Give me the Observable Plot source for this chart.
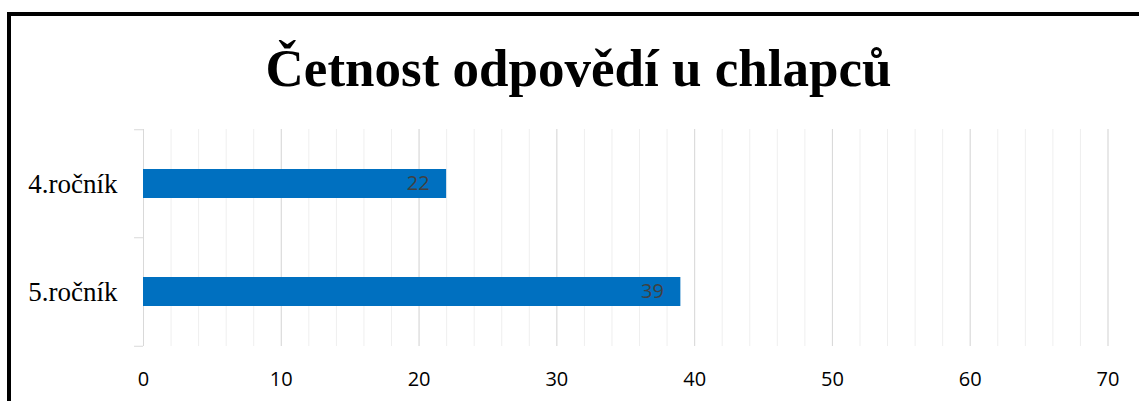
<!DOCTYPE html>
<html>
<head>
<meta charset="utf-8">
<script src="https://cdn.jsdelivr.net/npm/d3@7"></script>
<script src="https://cdn.jsdelivr.net/npm/@observablehq/plot@0.6"></script>
<style>
  html, body { margin: 0; padding: 0; background: #fff; width: 1139px; height: 401px; overflow: hidden; }
  #frame { position: absolute; left: 7px; top: 12px; width: 1200px; height: 500px;
           border-left: 4px solid #000; border-top: 4px solid #000; }
  #title { position: absolute; left: 0; top: 42px; width: 1157px; text-align: center;
           font-family: "Liberation Serif", "Times New Roman", serif; font-weight: bold;
           font-size: 53px; line-height: 53px; color: #000; white-space: nowrap; }
  #chart { position: absolute; left: 0; top: 0; }
</style>
</head>
<body>
<div id="frame"></div>
<div id="chart"></div>
<div id="title">Četnost odpovědí u chlapců</div>
<script>
const title = "Četnost odpovědí u chlapců";
const categories = ["4.ročník", "5.ročník"];
const values = [22, 39];
const xTicks = [0, 10, 20, 30, 40, 50, 60, 70];
const minorTicks = d3.range(0, 71, 2);

const data = categories.map((c, i) => ({category: c, value: values[i]}));

const W = 1139, H = 401;
const mTop = 129, mBottom = 55, mLeft = 143, mRight = 31.5;
const step = (H - mTop - mBottom) / categories.length;

const chart = Plot.plot({
  width: W,
  height: H,
  marginTop: mTop,
  marginBottom: mBottom,
  marginLeft: mLeft,
  marginRight: mRight,
  style: {background: "transparent", overflow: "visible"},
  x: {domain: [0, 70]},
  y: {domain: categories, paddingInner: 0.733, paddingOuter: 0.3665},
  marks: [
    Plot.gridX(minorTicks, {stroke: "#efefef", strokeOpacity: 1, strokeWidth: 1}),
    Plot.gridX(xTicks, {stroke: "#d9d9d9", strokeOpacity: 1, strokeWidth: 1}),
    Plot.ruleY(categories, {y: d => d, x1: -0.65, x2: 0, dy: -step / 2, stroke: "#d9d9d9"}),
    Plot.ruleY(categories.slice(-1), {y: d => d, x1: -0.65, x2: 0, dy: step / 2, stroke: "#d9d9d9"}),
    Plot.barX(data, {y: "category", x: "value", fill: "#0070C0"}),
    Plot.text(data, {
      y: "category", x: "value", text: d => String(d.value),
      textAnchor: "end", dx: -17, fill: "#404040",
      fontSize: 20, fontFamily: "Open Sans, sans-serif"
    }),
    Plot.axisX(xTicks, {
      tickSize: 0, tickPadding: 25, fontSize: 20, fill: "#000",
      fontFamily: "Open Sans, sans-serif", label: null
    }),
    Plot.axisY({
      tickSize: 0, tickPadding: 26, fontSize: 27, fill: "#000",
      fontFamily: "Liberation Serif, serif", label: null
    })
  ]
});
document.getElementById("chart").appendChild(chart);
</script>
</body>
</html>
